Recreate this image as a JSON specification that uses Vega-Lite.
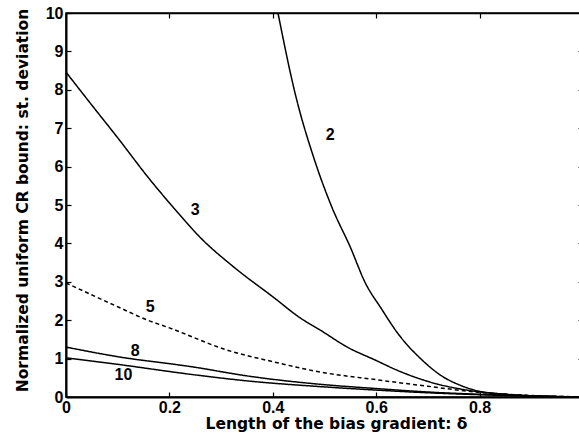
{
  "$schema": "https://vega.github.io/schema/vega-lite/v6.json",
  "width": 517,
  "height": 384,
  "autosize": {"type": "none"},
  "padding": {"left": 66, "top": 13, "right": 0, "bottom": 42},
  "background": "white",
  "config": {
    "view": {"stroke": "black", "strokeWidth": 1.5},
    "font": "Liberation Sans",
    "axis": {
      "grid": false,
      "domainColor": "black",
      "domainWidth": 2,
      "tickColor": "black",
      "tickWidth": 1.2,
      "labelColor": "black",
      "labelFont": "Liberation Sans",
      "labelFontWeight": "bold",
      "labelFontSize": 16,
      "titleColor": "black",
      "titleFont": "DejaVu Sans",
      "titleFontWeight": "bold",
      "titleFontSize": 15.5
    }
  },
  "datasets": {
    "curves": [
      {"s": "2", "x": 0.41, "y": 10}, {"s": "2", "x": 0.444, "y": 7.86}, {"s": "2", "x": 0.48, "y": 6.2}, {"s": "2", "x": 0.515, "y": 4.92}, {"s": "2", "x": 0.55, "y": 3.9}, {"s": "2", "x": 0.579, "y": 2.97}, {"s": "2", "x": 0.61, "y": 2.3}, {"s": "2", "x": 0.64, "y": 1.69}, {"s": "2", "x": 0.689, "y": 0.96}, {"s": "2", "x": 0.73, "y": 0.52}, {"s": "2", "x": 0.76, "y": 0.32}, {"s": "2", "x": 0.79, "y": 0.18}, {"s": "2", "x": 0.85, "y": 0.07}, {"s": "2", "x": 0.9, "y": 0.03}, {"s": "2", "x": 1.0, "y": 0.0},
      {"s": "3", "x": 0, "y": 8.46}, {"s": "3", "x": 0.05, "y": 7.6}, {"s": "3", "x": 0.1, "y": 6.75}, {"s": "3", "x": 0.163, "y": 5.65}, {"s": "3", "x": 0.212, "y": 4.87}, {"s": "3", "x": 0.26, "y": 4.15}, {"s": "3", "x": 0.324, "y": 3.39}, {"s": "3", "x": 0.401, "y": 2.6}, {"s": "3", "x": 0.453, "y": 2.06}, {"s": "3", "x": 0.492, "y": 1.74}, {"s": "3", "x": 0.544, "y": 1.3}, {"s": "3", "x": 0.6, "y": 0.95}, {"s": "3", "x": 0.64, "y": 0.7}, {"s": "3", "x": 0.704, "y": 0.39}, {"s": "3", "x": 0.775, "y": 0.18}, {"s": "3", "x": 0.85, "y": 0.07}, {"s": "3", "x": 0.92, "y": 0.02}, {"s": "3", "x": 1.0, "y": 0.0},
      {"s": "5", "x": 0, "y": 2.97}, {"s": "5", "x": 0.1, "y": 2.35}, {"s": "5", "x": 0.158, "y": 2.0}, {"s": "5", "x": 0.2, "y": 1.8}, {"s": "5", "x": 0.312, "y": 1.22}, {"s": "5", "x": 0.4, "y": 0.92}, {"s": "5", "x": 0.492, "y": 0.65}, {"s": "5", "x": 0.6, "y": 0.45}, {"s": "5", "x": 0.7, "y": 0.28}, {"s": "5", "x": 0.8, "y": 0.12}, {"s": "5", "x": 0.9, "y": 0.04}, {"s": "5", "x": 1.0, "y": 0.0},
      {"s": "8", "x": 0, "y": 1.3}, {"s": "8", "x": 0.1, "y": 1.05}, {"s": "8", "x": 0.247, "y": 0.78}, {"s": "8", "x": 0.35, "y": 0.55}, {"s": "8", "x": 0.492, "y": 0.33}, {"s": "8", "x": 0.6, "y": 0.22}, {"s": "8", "x": 0.7, "y": 0.13}, {"s": "8", "x": 0.8, "y": 0.07}, {"s": "8", "x": 0.9, "y": 0.03}, {"s": "8", "x": 1.0, "y": 0.0},
      {"s": "10", "x": 0, "y": 1.02}, {"s": "10", "x": 0.1, "y": 0.85}, {"s": "10", "x": 0.247, "y": 0.58}, {"s": "10", "x": 0.35, "y": 0.42}, {"s": "10", "x": 0.492, "y": 0.27}, {"s": "10", "x": 0.6, "y": 0.18}, {"s": "10", "x": 0.7, "y": 0.11}, {"s": "10", "x": 0.8, "y": 0.06}, {"s": "10", "x": 0.9, "y": 0.02}, {"s": "10", "x": 1.0, "y": 0.0}
    ],
    "labels": [
      {"t": "2", "x": 0.511, "y": 6.82},
      {"t": "3", "x": 0.25, "y": 4.87},
      {"t": "5", "x": 0.163, "y": 2.34},
      {"t": "8", "x": 0.134, "y": 1.2},
      {"t": "10", "x": 0.111, "y": 0.57}
    ]
  },
  "layer": [
    {
      "data": {"name": "curves"},
      "mark": {"type": "line", "color": "black", "strokeWidth": 1.5, "clip": true, "interpolate": "monotone"},
      "encoding": {
        "x": {"field": "x", "type": "quantitative", "scale": {"domain": [0, 1], "nice": false},
          "axis": {"orient": "bottom", "values": [0, 0.2, 0.4, 0.6, 0.8, 1], "format": "~g", "tickSize": -5, "labelPadding": 7, "labelFlush": false, "labelOverlap": false, "title": "Length of the bias gradient: δ", "titlePadding": 1, "titleX": 270}},
        "y": {"field": "y", "type": "quantitative", "scale": {"domain": [0, 10], "nice": false},
          "axis": {"orient": "left", "values": [0,1,2,3,4,5,6,7,8,9,10], "tickSize": -5, "labelPadding": 8, "labelFlush": false, "labelOverlap": false, "title": "Normalized uniform CR bound: st. deviation", "titlePadding": 15, "titleY": 187}},
        "detail": {"field": "s", "type": "nominal"},
        "strokeDash": {"field": "s", "type": "nominal", "scale": {"domain": ["2", "3", "5", "8", "10"], "range": [[1, 0], [1, 0], [4, 3], [1, 0], [1, 0]]}, "legend": null},
        "strokeWidth": {"field": "s", "type": "nominal", "scale": {"domain": ["2", "3", "5", "8", "10"], "range": [1.6, 1.6, 1.1, 1.5, 2]}, "legend": null}
      }
    },
    {
      "data": {"name": "labels"},
      "mark": {"type": "text", "fontSize": 16, "fontWeight": "bold", "color": "black", "font": "Liberation Sans"},
      "encoding": {
        "x": {"field": "x", "type": "quantitative", "axis": {"orient": "top", "values": [0, 0.2, 0.4, 0.6, 0.8, 1], "labels": false, "tickSize": -5, "domain": true, "domainWidth": 1.5, "title": null}},
        "y": {"field": "y", "type": "quantitative", "axis": {"orient": "right", "values": [0,1,2,3,4,5,6,7,8,9,10], "labels": false, "tickSize": -5, "domain": true, "domainWidth": 1.5, "title": null}},
        "text": {"field": "t", "type": "nominal"}
      }
    }
  ],
  "resolve": {"axis": {"x": "independent", "y": "independent"}}
}
